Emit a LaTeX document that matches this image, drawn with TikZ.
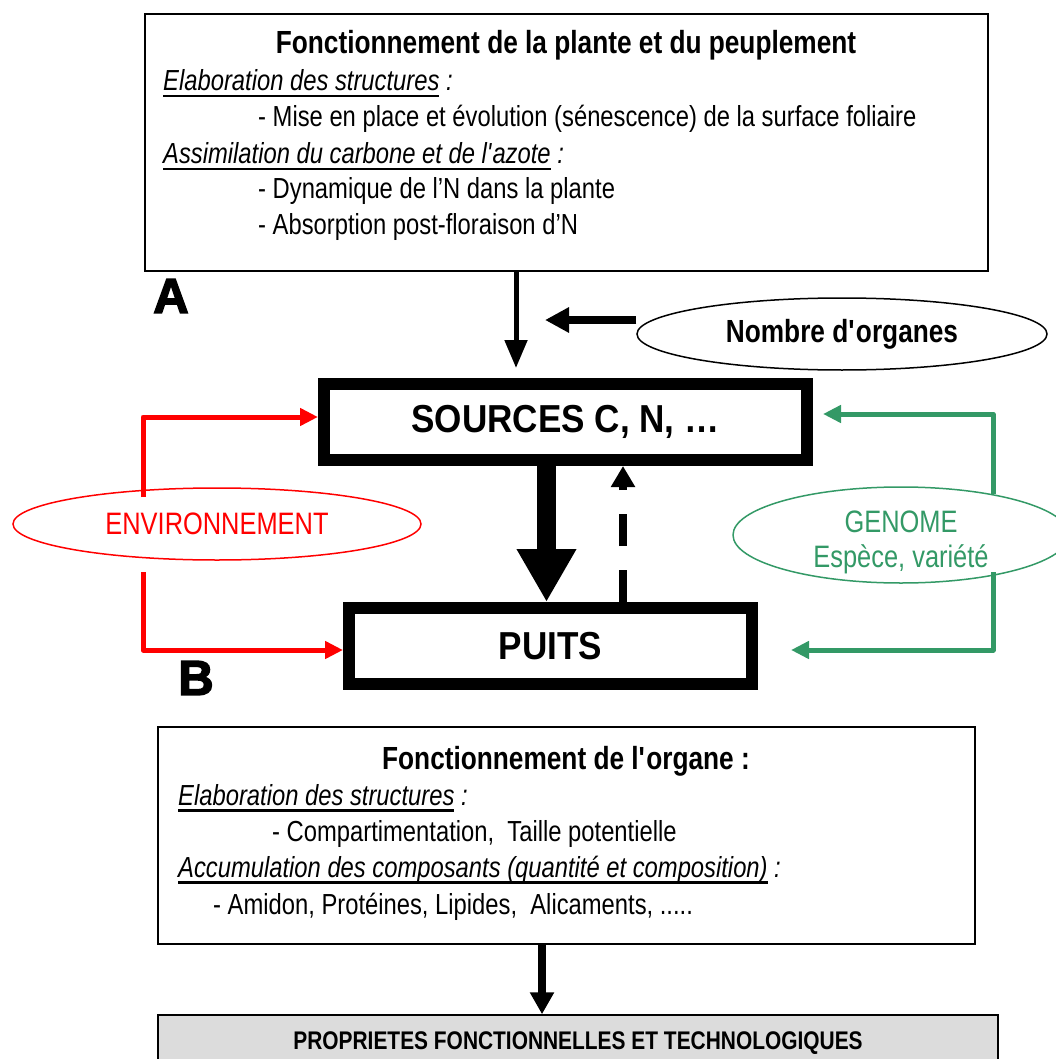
\documentclass[tikz,border=0pt]{standalone}
\usepackage{fontspec}
\setmainfont{Liberation Sans}[FakeStretch=0.82]
\newfontfamily\widefont{Liberation Sans}[FakeStretch=0.9]
\newfontfamily\heavyfont{Liberation Sans}[UprightFont={* Bold}, FakeBold=3]
\usepackage{tikz}
\usetikzlibrary{arrows.meta, shapes.geometric, positioning}
\definecolor{envred}{RGB}{255,0,0}
\definecolor{genogreen}{RGB}{51,153,102}
\definecolor{propgray}{RGB}{220,220,220}
\newcommand\thickul[1]{\setbox0\hbox{#1}\rlap{\rule[-6.5pt]{\wd0}{2.4pt}}\box0\relax}

\begin{document}
\begin{tikzpicture}[
    x=1pt, y=-1pt,
    frame/.style={rectangle, draw, line width=1.5pt, inner sep=0pt},
    heavybox/.style={rectangle, draw, line width=12pt, inner sep=0pt, font=\widefont\bfseries\fontsize{39}{46}\selectfont},
    oval/.style={ellipse, draw, line width=1.5pt, inner sep=0pt},
    titletxt/.style={inner sep=0pt, font=\bfseries\fontsize{32}{38}\selectfont},
    line/.style={inner sep=0pt, font=\fontsize{29}{35}\selectfont},
    letter/.style={inner sep=0pt, font=\heavyfont\fontsize{49}{54}\selectfont},
    arrow/.style={-{Triangle[length=28pt,width=22pt]}, line width=5pt},
    sidearrow/.style={-{Triangle[length=18pt,width=17pt]}, line width=5pt, line join=round}
]
\useasboundingbox (0,0) rectangle (1056,1059);

% Top box
\node[frame, minimum width=843pt, minimum height=257pt] (plante) at (566.5,142.5) {};
\node[titletxt, anchor=base] (plantetitle) at (566,54) {Fonctionnement de la plante et du peuplement};
\node[line, anchor=base west] (p1) at (163,91) {\thickul{\textit{Elaboration des structures}} \textit{:}};
\node[line, anchor=base west] (p2) at (258,127) {- Mise en place et évolution (sénescence) de la surface foliaire};
\node[line, anchor=base west] (p3) at (163,164) {\thickul{\textit{Assimilation du carbone et de l\textquotesingle azote}} \textit{:}};
\node[line, anchor=base west] (p4) at (258,199) {- Dynamique de l’N dans la plante};
\node[line, anchor=base west] (p5) at (258,235) {- Absorption post-floraison d’N};
\node[letter] (lettera) at (171,296) {A};

% Sources and sinks
\node[oval, minimum width=410pt, minimum height=72pt, titletxt] (organes) at (842,334) {Nombre d\textquotesingle organes};
\node[heavybox, minimum width=483pt, minimum height=76pt] (sources) at (565.5,422) {SOURCES C, N, …};
\node[heavybox, minimum width=403pt, minimum height=76pt] (puits) at (550.5,646) {PUITS};
\node[letter] (letterb) at (196,678) {B};

\node[oval, draw=envred, text=envred, minimum width=408pt, minimum height=72pt, font=\fontsize{31}{36}\selectfont] (env) at (217,524) {ENVIRONNEMENT};
\node[oval, draw=genogreen, minimum width=336pt, minimum height=96pt] (genome) at (901,535) {};
\node[inner sep=0pt, text=genogreen, font=\fontsize{31}{36}\selectfont, anchor=base] (genome1) at (901,532) {GENOME};
\node[inner sep=0pt, text=genogreen, font=\fontsize{31}{36}\selectfont, anchor=base] (genome2) at (901,567) {Espèce, variété};

% Bottom boxes
\node[frame, minimum width=817pt, minimum height=217pt] (organe) at (566.5,835.5) {};
\node[titletxt, anchor=base] (organetitle) at (566,769) {Fonctionnement de l\textquotesingle organe :};
\node[line, anchor=base west] (o1) at (178,805) {\thickul{\textit{Elaboration des structures}} \textit{:}};
\node[line, anchor=base west] (o2) at (272,841) {- Compartimentation,\ \ Taille potentielle};
\node[line, anchor=base west] (o3) at (178,877) {\thickul{\textit{Accumulation des composants (quantité et composition)}} \textit{:}};
\node[line, anchor=base west] (o4) at (213,914) {- Amidon, Protéines, Lipides,\ \ Alicaments, .....};
\node[frame, fill=propgray, minimum width=840pt, minimum height=56pt, font=\bfseries\fontsize{25.5}{30}\selectfont] (props) at (578,1043) {PROPRIETES FONCTIONNELLES ET TECHNOLOGIQUES};

% Paths
\coordinate (cin) at (516,368);
\coordinate (cnb) at (545,320);
\coordinate (cbig) at (546.5,0);
\coordinate (cdash) at (623,0);
\coordinate (cout) at (542,0);
\draw[arrow] (plante.south -| cin) -- (cin);
\draw[-{Triangle[length=24pt,width=24pt]}, line width=8pt] (organes.west |- cnb) -- (cnb);
\draw[-{Triangle[length=53pt,width=56pt]}, line width=19pt] (sources.south -| cbig) -- (puits.north -| cbig);
\draw[-{Triangle[length=21pt,width=23pt]}, line width=8pt, dash pattern=on 32pt off 24pt] (puits.north -| cdash) -- (sources.south -| cdash);
\draw[-{Triangle[length=22pt,width=23pt]}, line width=8pt] (organe.south -| cout) -- (props.north -| cout);

% Environment and genome
\draw[sidearrow, envred] (env.center) ++(-74,-27) |- ([yshift=5pt]sources.west);
\draw[sidearrow, envred] (env.center) ++(-74,48) |- ([yshift=-4pt]puits.west);
\draw[sidearrow, genogreen, shorten >=10pt] (genome.center) ++(92,-41) |- ([yshift=8pt]sources.east);
\draw[sidearrow, genogreen, shorten >=33pt] (genome.center) ++(92,37) |- ([yshift=-4pt]puits.east);

\end{tikzpicture}
\end{document}
